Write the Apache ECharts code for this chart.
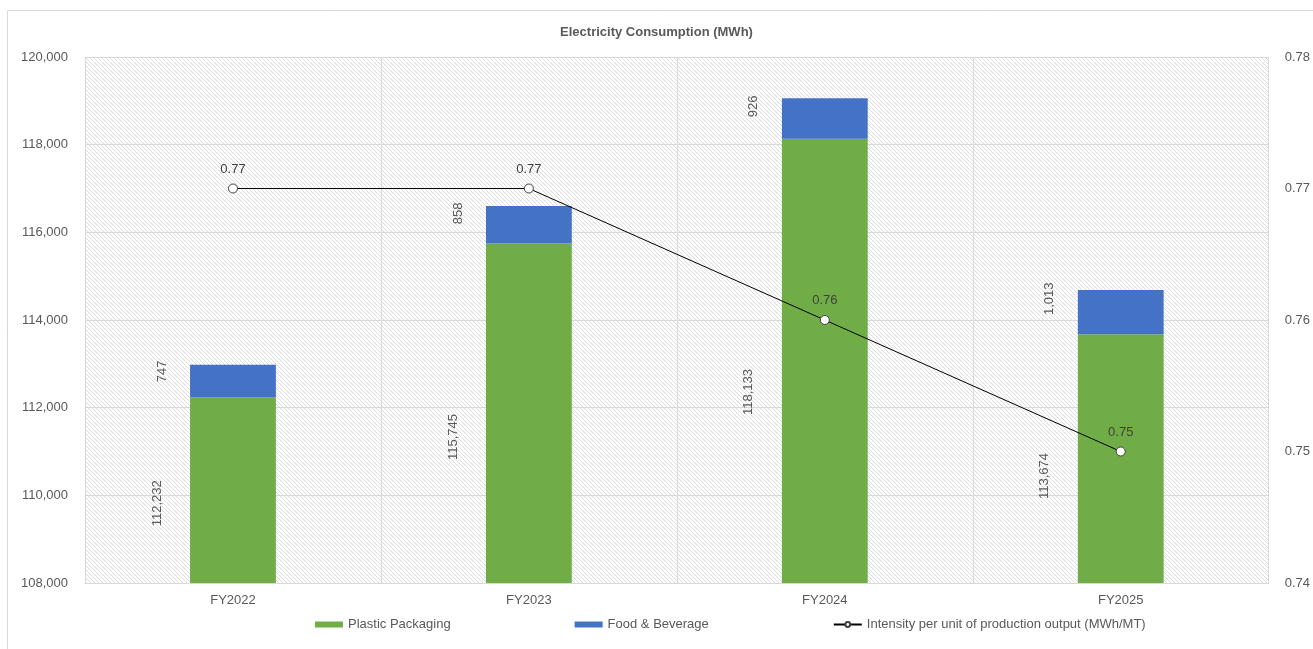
<!DOCTYPE html>
<html>
<head>
<meta charset="utf-8">
<script src="https://cdn.jsdelivr.net/npm/echarts@6/dist/echarts.min.js"></script>
<style>
  html, body { margin: 0; padding: 0; background: #fff; }
  #chart { width: 1313px; height: 649px; }
</style>
</head>
<body>
<div id="chart"></div>
<script>
// chart data
const categories = ['FY2022', 'FY2023', 'FY2024', 'FY2025'];
const plasticPackaging = [112232, 115745, 118133, 113674];
const foodBeverage = [747, 858, 926, 1013];
const intensity = [0.77, 0.77, 0.76, 0.75];

// hatched background for plot area
const makeHatch = () => {
  const c = document.createElement('canvas');
  c.width = 4;
  c.height = 4;
  const ctx = c.getContext('2d');
  ctx.fillStyle = '#ffffff';
  ctx.fillRect(0, 0, 4, 4);
  ctx.strokeStyle = '#dcdcdc';
  ctx.lineWidth = 1;
  ctx.beginPath();
  ctx.moveTo(-1, -1); ctx.lineTo(5, 5);
  ctx.moveTo(-1, 3); ctx.lineTo(1, 5);
  ctx.moveTo(3, -1); ctx.lineTo(5, 1);
  ctx.stroke();
  return c;
};

const fmt = v => v.toLocaleString('en-US');
const textColor = '#595959';
const gridColor = '#d9d9d9';
const font = '"Liberation Sans", Arial, sans-serif';

const chart = echarts.init(document.getElementById('chart'));

const option = {
  animation: false,
  textStyle: { fontFamily: font },
  title: {
    text: 'Electricity Consumption (MWh)',
    left: 'center',
    top: 21,
    textStyle: { fontSize: 13, fontWeight: 'bold', color: textColor, fontFamily: font }
  },
  graphic: [{
    type: 'rect',
    shape: { x: 7.5, y: 10.5, width: 1320, height: 660 },
    style: { fill: 'none', stroke: gridColor, lineWidth: 1 },
    silent: true,
    z: -1
  }],
  grid: {
    left: 85,
    right: 41,
    top: 57,
    bottom: 66,
    show: true,
    borderWidth: 0,
    backgroundColor: { image: makeHatch(), repeat: 'repeat' }
  },
  legend: {
    left: 310,
    top: 613,
    itemGap: 124,
    itemWidth: 28,
    itemHeight: 6,
    textStyle: { color: textColor, fontSize: 13, fontFamily: font },
    data: [
      { name: 'Plastic Packaging', icon: 'rect' },
      { name: 'Food & Beverage', icon: 'rect' },
      { name: 'Intensity per unit of production output (MWh/MT)' }
    ]
  },
  xAxis: {
    type: 'category',
    data: categories,
    axisLine: { lineStyle: { color: gridColor } },
    axisTick: { show: false },
    axisLabel: { color: textColor, fontSize: 13, margin: 11 },
    splitLine: { show: true, lineStyle: { color: gridColor } }
  },
  yAxis: [
    {
      type: 'value',
      min: 108000,
      max: 120000,
      interval: 2000,
      axisLine: { show: false },
      axisTick: { show: false },
      axisLabel: { color: textColor, fontSize: 13, margin: 17, formatter: v => fmt(v) },
      splitLine: { lineStyle: { color: gridColor } }
    },
    {
      type: 'value',
      min: 0.74,
      max: 0.78,
      interval: 0.01,
      axisLine: { show: false },
      axisTick: { show: false },
      axisLabel: { color: textColor, fontSize: 13, margin: 16, formatter: v => v.toFixed(2) },
      splitLine: { show: false }
    }
  ],
  series: [
    {
      name: 'Plastic Packaging',
      type: 'bar',
      stack: 'total',
      barWidth: '29%',
      data: plasticPackaging,
      itemStyle: { color: '#70AD47' },
      label: {
        show: true,
        position: [-33, '57%'],
        rotate: 90,
        align: 'center',
        verticalAlign: 'middle',
        color: textColor,
        fontSize: 13,
        formatter: p => fmt(p.value)
      }
    },
    {
      name: 'Food & Beverage',
      type: 'bar',
      stack: 'total',
      barWidth: '29%',
      data: foodBeverage,
      itemStyle: { color: '#4472C4' },
      label: {
        show: true,
        position: [-28, '20%'],
        rotate: 90,
        align: 'center',
        verticalAlign: 'middle',
        color: textColor,
        fontSize: 13,
        formatter: p => fmt(p.value)
      }
    },
    {
      name: 'Intensity per unit of production output (MWh/MT)',
      type: 'line',
      yAxisIndex: 1,
      data: intensity,
      symbol: 'circle',
      symbolSize: 9,
      lineStyle: { color: '#000000', width: 1 },
      itemStyle: { color: '#ffffff', borderColor: '#404040', borderWidth: 1 },
      label: {
        show: true,
        position: 'top',
        distance: 8,
        color: '#404040',
        fontSize: 13,
        formatter: p => p.value.toFixed(2)
      },
      z: 5
    }
  ]
};

chart.setOption(option);
</script>
</body>
</html>
